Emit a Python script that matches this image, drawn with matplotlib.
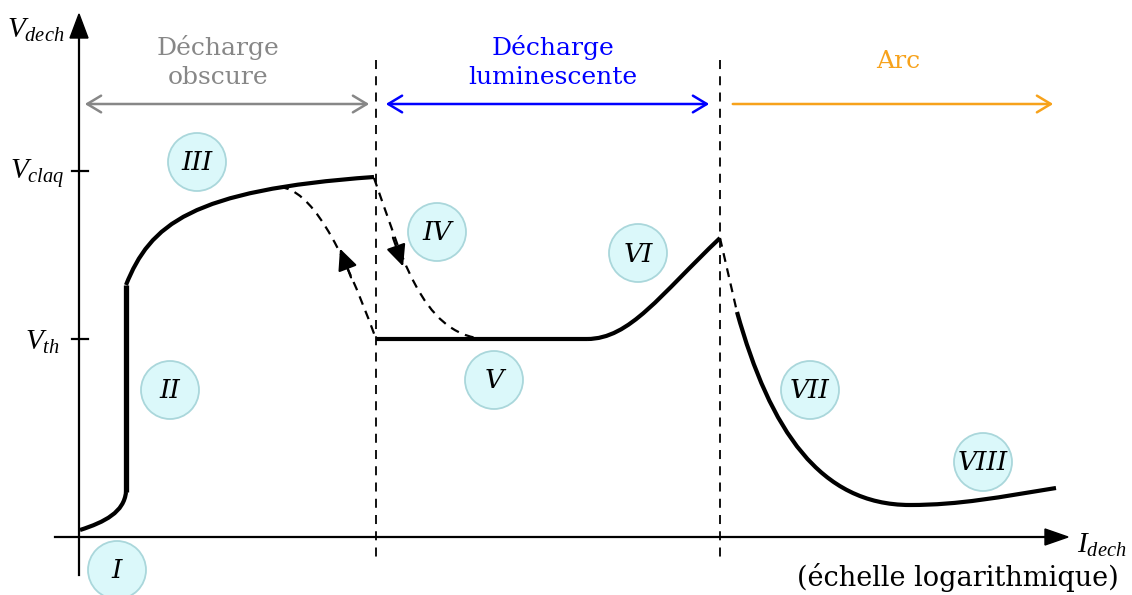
import matplotlib
matplotlib.use("Agg")
import matplotlib.pyplot as plt
from matplotlib.path import Path
from matplotlib.patches import PathPatch, Circle, FancyArrowPatch, Polygon

plt.rcParams['font.family'] = ['DejaVu Serif']
# les etiquettes V_xxx / I_dech en mathtext avec une police plus etroite
plt.rcParams['mathtext.fontset'] = 'custom'
plt.rcParams['mathtext.rm'] = 'Liberation Serif'
plt.rcParams['mathtext.it'] = 'Liberation Serif:italic'

# --- donnees (repere = pixels de l'image, y vers le bas) ---
V_claq = 171
V_th = 339
frontieres = [376, 720]   # limites obscure / luminescente / arc

regions = ["I", "II", "III", "IV", "V", "VI", "VII", "VIII"]
regions_x = [117, 170, 197, 437, 494, 638, 810, 983]
regions_y = [570, 390, 162, 232, 380, 253, 390, 462]

regimes = ["Décharge\nobscure", "Décharge\nluminescente", "Arc"]
regimes_couleur = ["#878787", "#0000ff", "#f7a21b"]
regimes_x = [218, 553, 898]

# courbes : points de controle de Bezier cubiques
courbe_I = [(80, 530), (105, 522), (124, 512), (126, 492)]
courbe_II = [(126, 492), (126, 285)]
courbe_III = [(126, 285), (150, 225), (190, 190), (374, 177)]
retour_III = [(280, 187), (310, 190), (340, 240), (376, 339)]
chute_IV = [(374, 178), (400, 250), (420, 335), (485, 339)]
palier_V = [(376, 339), (587, 339)]
montee_VI = [(587, 339), (630, 339), (660, 295), (720, 238)]
saut_VII = [(720, 238), (737, 312)]
courbe_VII = [(737, 312), (770, 430), (820, 505), (910, 505)]
courbe_VIII = [(910, 505), (960, 505), (1000, 497), (1056, 488)]

fig = plt.figure(figsize=(11.32, 5.95), dpi=100)
ax = fig.add_axes([0, 0, 1, 1])
ax.set_xlim(0, 1132)
ax.set_ylim(595, 0)
ax.axis('off')


def trace(pts, ls='-', lw=3.0, color='black'):
    if len(pts) == 4:
        codes = [Path.MOVETO, Path.CURVE4, Path.CURVE4, Path.CURVE4]
    else:
        codes = [Path.MOVETO, Path.LINETO]
    p = PathPatch(Path(pts, codes), fill=False, lw=lw, ls=ls, color=color,
                  capstyle='butt', joinstyle='round')
    ax.add_patch(p)


# axes
ax.plot([79, 79], [575, 36], color='black', lw=1.6)
ax.add_patch(Polygon([(79, 14), (70, 38), (88, 38)], color='black'))
ax.plot([55, 1046], [537, 537], color='black', lw=1.6)
ax.add_patch(Polygon([(1068, 537), (1045, 529), (1045, 545)], color='black'))
ax.plot([72, 88], [V_claq, V_claq], color='black', lw=1.6)
ax.plot([72, 88], [V_th, V_th], color='black', lw=1.6)

ax.text(64, 30, r'$V_{dech}$', fontsize=21, ha='right', va='center')
ax.text(64, 173, r'$V_{claq}$', fontsize=21, ha='right', va='center')
ax.text(60, 342, r'$V_{th}$', fontsize=21, ha='right', va='center')
ax.text(1077, 545, r'$I_{dech}$', fontsize=21, ha='left', va='center')
ax.text(1119, 578, "(échelle logarithmique)", fontsize=19.5, ha='right', va='center')

# frontieres
for xf in frontieres:
    ax.plot([xf, xf], [60, 558], color='black', lw=1.3, ls=(0, (5, 4)))

# fleches des regimes
debuts = [82, 383, 730]
fins = [372, 712, 1056]
styles = ['<->', '<->', '->']
for i in range(3):
    fl = FancyArrowPatch((debuts[i], 104), (fins[i], 104),
                         arrowstyle=styles[i] + ',head_length=10,head_width=6',
                         mutation_scale=1, color=regimes_couleur[i], lw=1.8)
    ax.add_patch(fl)
    ax.text(regimes_x[i], 62, regimes[i], fontsize=18, color=regimes_couleur[i],
            ha='center', va='center', linespacing=1.35)

# courbe caracteristique
trace(courbe_I, lw=3.0)
trace(courbe_II, lw=3.8)
trace(courbe_III, lw=3.0)
trace(retour_III, ls=(0, (4, 3)), lw=1.6)
trace(chute_IV, ls=(0, (4, 3)), lw=1.6)
trace(palier_V, lw=3.0)
trace(montee_VI, lw=3.0)
trace(saut_VII, ls=(0, (4, 3)), lw=1.6)
trace(courbe_VII, lw=3.0)
trace(courbe_VIII, lw=3.0)

# petites fleches sur les parties en pointilles
ax.annotate('', xy=(339, 246), xytext=(352, 280),
            arrowprops=dict(arrowstyle='-|>,head_length=1.3,head_width=0.6',
                            color='black', lw=1.6, mutation_scale=10))
ax.annotate('', xy=(404, 269), xytext=(392, 235),
            arrowprops=dict(arrowstyle='-|>,head_length=1.3,head_width=0.6',
                            color='black', lw=1.6, mutation_scale=10))

# cercles des regions
for nom, cx, cy in zip(regions, regions_x, regions_y):
    ax.add_patch(Circle((cx, cy), 29, facecolor='#dbf8fa', edgecolor='#aad7db',
                        lw=1.3, zorder=3))
    ax.text(cx, cy + 1, nom, fontsize=19, style='italic', ha='center', va='center',
            zorder=4)

fig.savefig("out.png", dpi=100)
